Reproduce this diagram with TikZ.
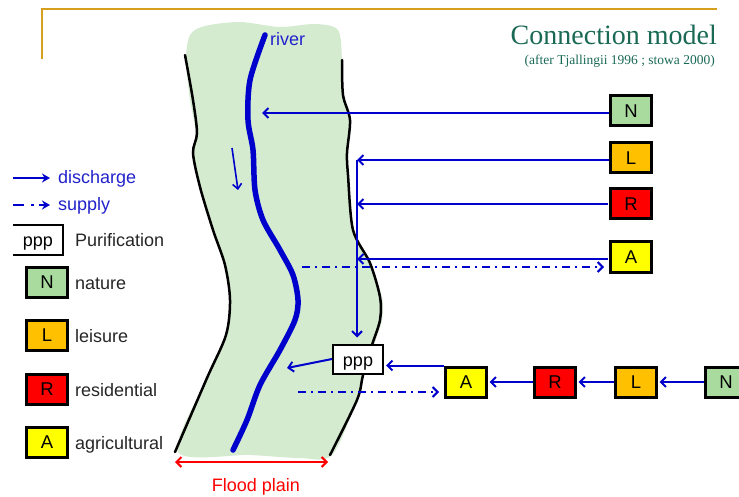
\documentclass[tikz,border=0pt]{standalone}
\usepackage{fontspec}
\setmainfont{Liberation Sans}
\newfontfamily\titlefont{Liberation Serif}
\usetikzlibrary{arrows.meta}
\definecolor{fp}{RGB}{212,235,208}
\definecolor{blu}{RGB}{0,0,204}
\definecolor{txtblu}{RGB}{34,34,204}
\definecolor{goldc}{RGB}{214,160,30}
\definecolor{ttl}{RGB}{25,105,85}
\definecolor{cN}{RGB}{169,218,158}
\definecolor{cL}{RGB}{255,192,0}
\definecolor{cR}{RGB}{255,0,0}
\definecolor{cA}{RGB}{255,255,0}
\begin{document}
\begin{tikzpicture}[x=1pt,y=-1pt,
  lbox/.style={draw=black,line width=3pt,minimum width=41pt,minimum height=30pt,inner sep=0pt,font=\fontsize{18.5}{18}\selectfont},
  pbox/.style={draw=black,fill=white,line width=2pt,minimum width=50pt,minimum height=29pt,inner sep=0pt,text height=15pt,text depth=0pt,font=\fontsize{18}{18}\selectfont},
  lbl/.style={anchor=base west,inner sep=0pt,font=\fontsize{18}{20}\selectfont,text=black!85},
  blbl/.style={anchor=base west,inner sep=0pt,font=\fontsize{18}{20}\selectfont,text=txtblu},
  dis/.style={blu,line width=2pt,-{Straight Barb[length=5pt,width=10pt,line width=2pt]}},
  sup/.style={blu,line width=2pt,dash pattern=on 8pt off 5pt on 2pt off 5pt,-{Straight Barb[length=5pt,width=10pt,line width=2pt]}},
  bank/.style={black,line width=2.5pt,line cap=round}]
\useasboundingbox (0,0) rectangle (739,497);

% frame and title
\draw[goldc,line width=2pt] (42,59) -- (42,9) -- (717,9);
\node[anchor=base east,inner sep=0pt,text=ttl,font=\titlefont\fontsize{28}{30}\selectfont] (title) at (717,45) {Connection model};
\node[anchor=base east,inner sep=0pt,text=ttl,font=\titlefont\fontsize{13.5}{14}\selectfont] (subtitle) at (715,65) {(after Tjallingii 1996 ; stowa 2000)};

% flood plain
\fill[fp] plot[smooth cycle,tension=0.5] coordinates {(190,35) (205,26) (240,22) (280,27) (315,24) (338,30) (342,60) (343,95) (350,120) (347,153) (348,175) (353,230) (370,263) (382,297) (382,320) (374,345) (364,375) (357,400) (332,455) (300,458) (250,455) (178,452) (207,378) (226,335) (230,300) (225,265) (213,230) (200,187) (193,153) (196,133) (190,100) (186,60)};
\draw[bank] plot[smooth,tension=0.5] coordinates {(185,55) (193,100) (197,133) (193,153) (200,187) (213,230) (225,265) (230,300) (226,335) (207,378) (175,452)};
\draw[bank] plot[smooth,tension=0.5] coordinates {(342,60) (343,95) (350,120) (347,153) (348,175) (353,230) (370,263) (380,297) (380,320) (372,345) (363,375) (357,400) (330,455)};
\draw[blu,line width=5.5pt,line cap=round] plot[smooth,tension=0.5] coordinates {(265,35) (250,80) (248,120) (253,150) (255,190) (263,220) (280,250) (293,275) (298,300) (295,320) (280,350) (260,385) (247,420) (233,450)};
\node[blbl] (river) at (270,46) {river};
\coordinate (fa) at (232,148);
\coordinate (fb) at (238,190);
\draw[blu,line width=1.6pt,-{Straight Barb[length=5pt,width=9pt,line width=1.6pt]}] (fa) -- (fb);

% flood plain arrow
\coordinate (fl) at (175,462);
\coordinate (fr) at (328,462);
\draw[red,line width=2pt,{Straight Barb[length=5pt,width=10pt,line width=2pt]}-{Straight Barb[length=5pt,width=10pt,line width=2pt]}] (fl) -- (fr);
\node[anchor=base,inner sep=0pt,font=\fontsize{18}{20}\selectfont,text=red] (fp) at (256,491) {Flood plain};

% right boxes
\node[lbox,fill=cN] (N) at (631,111) {N};
\node[lbox,fill=cL] (L) at (631,158) {L};
\node[lbox,fill=cR] (R) at (631,204) {R};
\node[lbox,fill=cA] (A) at (631,257) {A};

\node[pbox] (ppp) at (358,359) {ppp};

\node[lbox,fill=cA] (A2) at (466,382) {A};
\node[lbox,fill=cR] (R2) at (555,382) {R};
\node[lbox,fill=cL] (L2) at (636,382) {L};
\node[lbox,fill=cN] (N2) at (726,382) {N};

% connectors
\coordinate (rv1) at (262,113);
\draw[dis] (N.west |- rv1) -- (rv1);
\coordinate (col) at (357,160);
\draw[dis] (L.west |- col) -- (col);
\draw[dis] (col) -- (col |- ppp.north) [shorten >=6pt];
\draw[dis] ([xshift=-1.5pt]R.west) -- (R.west -| col);
\draw[dis] ([xshift=-1.5pt,yshift=-2pt]A.west) -- ([yshift=-2pt]A.west -| col);
\coordinate (s1) at (302,267);
\draw[sup,shorten >=5pt] (s1) -- (s1 -| A.west);
\coordinate (rv2) at (287,368);
\draw[dis] (ppp.west) -- (rv2);
\draw[dis,shorten >=2pt] (A2.north west) -- (A2.north west -| ppp.east);
\coordinate (s2) at (298,392);
\draw[sup,shorten >=5pt] (s2) -- (s2 -| A2.west);
\draw[dis,shorten >=1.5pt] (N2.west) -- (L2.east);
\draw[dis,shorten >=1.5pt] (L2.west) -- (R2.east);
\draw[dis,shorten >=1.5pt] (R2.west) -- (A2.east);

% legend
\coordinate (d1) at (13,178);
\coordinate (d2) at (50,178);
\draw[blu,line width=2pt,-{Stealth[length=8pt,width=9pt]}] (d1) -- (d2);
\node[blbl] (ldis) at (58,184) {discharge};
\coordinate (u1) at (13,205);
\coordinate (u2) at (50,205);
\draw[blu,line width=2pt,dash pattern=on 11pt off 7pt on 3pt off 5pt,-{Stealth[length=8pt,width=9pt]}] (u1) -- (u2);
\node[blbl] (lsup) at (58,211) {supply};
\node[minimum width=50pt,minimum height=30pt,inner sep=0pt,text height=14pt,text depth=0pt,font=\fontsize{18}{18}\selectfont] (pppL) at (38,240) {ppp};
\draw[black,line width=2pt] (pppL.north west) -- (pppL.north east) -- (pppL.south east) -- (pppL.south west);
\node[lbl] (lpur) at (75,247) {Purification};
\node[lbox,fill=cN] (kN) at (47,282) {N};
\node[lbox,fill=cL] (kL) at (47,335) {L};
\node[lbox,fill=cR] (kR) at (47,389) {R};
\node[lbox,fill=cA] (kA) at (47,442) {A};
\node[lbl] (tN) at (75,289) {nature};
\node[lbl] (tL) at (75,342) {leisure};
\node[lbl] (tR) at (75,396) {residential};
\node[lbl] (tA) at (75,449) {agricultural};
\end{tikzpicture}
\end{document}
